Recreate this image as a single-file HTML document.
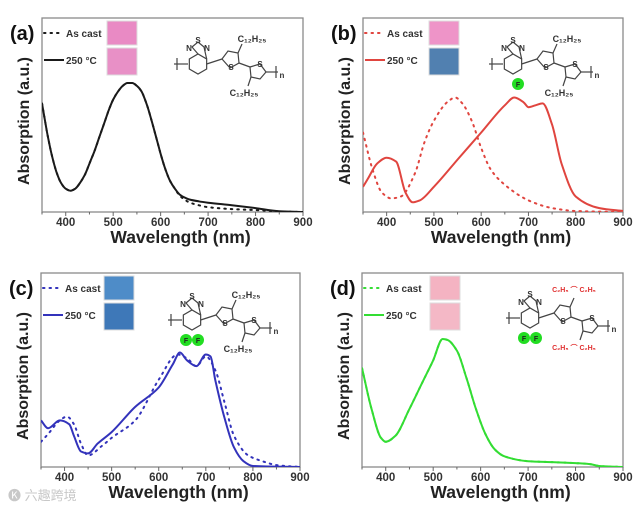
<!DOCTYPE html>
<html><head><meta charset="utf-8">
<style>
html,body{margin:0;padding:0;background:#fff;}
svg{display:block;font-family:"Liberation Sans",Arial,sans-serif;}
</style></head>
<body>
<svg id="fig" width="640" height="511" viewBox="0 0 640 511"></svg>
<script>
// ---- data (normalized absorption, fraction of frame height) ----
const aWl = [350,360,370,380,390,400,410,420,430,440,450,460,470,480,490,500,510,520,530,540,550,560,570,580,590,600,610,620,630,640,650,660,680,700,750,800,850,900];
const aAnneal = [0.56,0.42,0.30,0.21,0.15,0.12,0.11,0.12,0.15,0.19,0.25,0.31,0.38,0.45,0.52,0.58,0.62,0.65,0.665,0.665,0.65,0.62,0.56,0.48,0.39,0.30,0.22,0.16,0.12,0.09,0.075,0.065,0.055,0.048,0.035,0.02,0.004,0];
const aCast = [0.56,0.42,0.30,0.21,0.15,0.12,0.11,0.12,0.15,0.19,0.25,0.31,0.38,0.45,0.52,0.58,0.62,0.65,0.665,0.665,0.65,0.62,0.56,0.48,0.39,0.30,0.22,0.16,0.12,0.085,0.065,0.05,0.035,0.025,0.015,0.01,0.003,0];

const bWlA = [350,360,380,400,420,440,455,470,500,550,600,650,670,690,700,715,730,750,770,800,850,900];
const bAnneal = [0.13,0.17,0.25,0.28,0.26,0.10,0.05,0.06,0.13,0.27,0.41,0.55,0.59,0.565,0.54,0.55,0.56,0.45,0.25,0.08,0.02,0.005];
const bWlC = [350,370,390,410,430,460,480,500,530,545,560,580,600,620,650,700,750,800,900];
const bCast = [0.41,0.22,0.10,0.07,0.08,0.20,0.36,0.47,0.57,0.59,0.56,0.47,0.33,0.22,0.14,0.06,0.02,0.005,0];

const cWlA = [350,365,390,410,420,435,450,470,500,550,600,630,645,660,680,700,710,720,740,760,780,800,900];
const cAnneal = [0.24,0.20,0.24,0.22,0.16,0.08,0.07,0.12,0.18,0.31,0.41,0.53,0.59,0.55,0.52,0.58,0.57,0.45,0.25,0.10,0.03,0.005,0];
const cWlC = [350,365,390,405,420,435,450,480,500,550,600,640,660,680,700,720,740,760,790,820,850,900];
const cCast = [0.13,0.17,0.24,0.26,0.22,0.12,0.06,0.11,0.15,0.24,0.45,0.58,0.56,0.52,0.57,0.50,0.33,0.16,0.06,0.03,0.01,0];

const dWl = [350,370,390,400,420,450,480,500,520,530,550,570,590,610,630,650,700,750,800,830,850,900];
const dAnneal = [0.51,0.30,0.15,0.13,0.16,0.30,0.45,0.55,0.66,0.655,0.60,0.46,0.30,0.17,0.09,0.055,0.03,0.025,0.02,0.015,0.005,0];
const dCast = [0.51,0.30,0.15,0.13,0.16,0.30,0.45,0.55,0.66,0.655,0.60,0.46,0.30,0.17,0.09,0.055,0.03,0.025,0.02,0.015,0.005,0];

const xTicks = [400,500,600,700,800,900];
const xMin = 350, xMax = 900;

const NS = "http://www.w3.org/2000/svg";
const svg = document.getElementById('fig');
function el(tag, attrs, parent){
  const e = document.createElementNS(NS, tag);
  for (const k in attrs) e.setAttribute(k, attrs[k]);
  (parent||svg).appendChild(e);
  return e;
}
// monotone cubic (Fritsch-Carlson) to avoid overshoot
function smoothPath(pts){
  const n=pts.length;
  const dx=[],dy=[],m=[],t=[];
  for(let i=0;i<n-1;i++){dx[i]=pts[i+1][0]-pts[i][0];dy[i]=pts[i+1][1]-pts[i][1];m[i]=dy[i]/dx[i];}
  t[0]=m[0]; t[n-1]=m[n-2];
  for(let i=1;i<n-1;i++){
    if(m[i-1]*m[i]<=0) t[i]=0;
    else { const w1=2*dx[i]+dx[i-1], w2=dx[i]+2*dx[i-1]; t[i]=(w1+w2)/(w1/m[i-1]+w2/m[i]); }
  }
  let d="M"+pts[0][0].toFixed(1)+","+pts[0][1].toFixed(1);
  for(let i=0;i<n-1;i++){
    const h=dx[i]/3;
    d+=" C"+(pts[i][0]+h).toFixed(1)+","+(pts[i][1]+t[i]*h).toFixed(1)+" "+(pts[i+1][0]-h).toFixed(1)+","+(pts[i+1][1]-t[i+1]*h).toFixed(1)+" "+pts[i+1][0].toFixed(1)+","+pts[i+1][1].toFixed(1);
  }
  return d;
}

function panel(p){
  const g = el('g', {});
  
  
  const L=p.L, R=p.R, T=p.T, B=p.B;
  const sx = v => L + (v-xMin)/(xMax-xMin)*(R-L);
  const sy = v => B - v*(B-T);
  const frame = el('rect',{x:L,y:T,width:R-L,height:B-T,fill:'none',stroke:'#8a8a8a','stroke-width':1.3},g);
  
  
  for (let v=350; v<=900; v+=50){
    const major = v%100===0;
    const t = el('line',{x1:sx(v),x2:sx(v),y1:B,y2:B+(major?4:2.5),stroke:'#666','stroke-width':1},g);
    
    
  }
  xTicks.forEach(v=>{
    const t = el('text',{x:sx(v),y:B+14,'text-anchor':'middle','font-size':11.5,'font-weight':'bold',fill:'#333'},g);
    t.textContent = v;
    
    
  });
  const xt = el('text',{x:(L+R)/2+8,y:B+31,'text-anchor':'middle','font-size':17.5,'font-weight':'bold',fill:'#222'},g);
  xt.textContent='Wavelength (nm)';
  
  
  const yt = el('text',{x:0,y:0,transform:`translate(${L-13},${(T+B)/2+6}) rotate(-90)`,'text-anchor':'middle','font-size':16,'font-weight':'bold',fill:'#222'},g);
  yt.textContent='Absorption (a.u.)';
  
  
  const lab = el('text',{x:L-32,y:T+22,'font-size':20,'font-weight':'bold',fill:'#111'},g);
  lab.textContent='('+p.id+')';
  
  
  const clipId='clip'+p.id;
  const cp = el('clipPath',{id:clipId},g);
  el('rect',{x:L,y:T,width:R-L,height:B-T},cp);
  const castPts = p.wlC.map((w,i)=>[sx(w),sy(p.cast[i])]);
  const c = el('path',{d:smoothPath(castPts),fill:'none',stroke:p.color,'stroke-width':2,'stroke-dasharray':'1.5 5','stroke-linecap':'round','clip-path':`url(#${clipId})`},g);
  
  
  const annPts = p.wlA.map((w,i)=>[sx(w),sy(p.anneal[i])]);
  const a = el('path',{d:smoothPath(annPts),fill:'none',stroke:p.color,'stroke-width':2,'clip-path':`url(#${clipId})`},g);
  
  
  const lx=L+2, ly1=T+15, ly2=T+42;
  const l1 = el('line',{x1:lx,x2:lx+18,y1:ly1,y2:ly1,stroke:p.color,'stroke-width':2,'stroke-dasharray':'1.5 5','stroke-linecap':'round'},g);
  
  
  const t1 = el('text',{x:lx+22,y:ly1+4,'font-size':10,'font-weight':'bold',fill:'#333'},g);
  t1.textContent='As cast';
  
  
  const l2 = el('line',{x1:lx,x2:lx+20,y1:ly2,y2:ly2,stroke:p.color,'stroke-width':2},g);
  
  
  const t2 = el('text',{x:lx+22,y:ly2+4,'font-size':10,'font-weight':'bold',fill:'#333'},g);
  t2.textContent='250 °C';
  
  
  const f1 = el('rect',{x:p.photoX,y:T+3,width:30,height:24,fill:p.photo1,stroke:'#ddd','stroke-width':1},g);
  
  
  const f2 = el('rect',{x:p.photoX,y:T+30,width:30,height:27,fill:p.photo2,stroke:'#ddd','stroke-width':1},g);
  
  
  molecule(g, p.mx, p.my, p.mol);
}

function molecule(parent, ox, oy, opt){
  const g = el('g',{transform:`translate(${ox},${oy})`,stroke:'#444','stroke-width':1.2,fill:'none'},parent);
  
  
  const hx=0, hy=0, r=10;
  let hp=[];
  for(let i=0;i<6;i++){const a=Math.PI/6+i*Math.PI/3; hp.push([hx+r*Math.cos(a),hy+r*Math.sin(a)]);}
  el('polygon',{points:hp.map(p=>p.join(',')).join(' ')},g);
  el('polyline',{points:`${hp[4][0]},${hp[4][1]} -6,-17 0,-22 6,-17 ${hp[5][0]},${hp[5][1]}`},g);
  el('line',{x1:-10,y1:0,x2:-24,y2:0},g);
  el('line',{x1:-21,y1:-6,x2:-21,y2:6},g);
  el('line',{x1:hp[0][0],y1:hp[0][1]-5,x2:24,y2:-5},g);
  const t1=[[24,-5],[30,-13],[40,-11],[41,-1],[32,4]];
  el('polygon',{points:t1.map(p=>p.join(',')).join(' ')},g);
  el('line',{x1:40,y1:-11,x2:44,y2:-20},g);
  el('line',{x1:41,y1:-1,x2:52,y2:3},g);
  const t2=[[52,3],[62,0],[68,8],[62,15],[53,13]];
  el('polygon',{points:t2.map(p=>p.join(',')).join(' ')},g);
  el('line',{x1:53,y1:13,x2:50,y2:22},g);
  el('line',{x1:68,y1:8,x2:80,y2:8},g);
  el('line',{x1:78,y1:2,x2:78,y2:14},g);
  const tx = (x,y,s,c,fs)=>{const t=el('text',{x,y,'font-size':fs||8,'font-weight':'bold',fill:c||'#333',stroke:'none','text-anchor':'middle'},g);t.textContent=s;return t;};
  tx(0,-21,'S'); tx(-9,-13,'N'); tx(9,-13,'N');
  tx(33,6,'S'); tx(62,3,'S'); tx(84,14,'n');
  if(opt.red){
    tx(44,-26,'C₂H₅ ⌒ C₂H₅','#e03030',7);
    tx(44,32,'C₂H₅ ⌒ C₂H₅','#e03030',7);
  } else {
    tx(54,-22,'C₁₂H₂₅','#333',9);
    tx(46,32,'C₁₂H₂₅','#333',9);
  }
  (opt.F||[]).forEach(fx=>{
    const c=el('circle',{cx:fx,cy:20,r:6,fill:'#22dd22',stroke:'none'},g);
    
    
    tx(fx,23,'F','#222',7);
  });
}

panel({id:'a',L:42,R:303,T:18,B:212,color:'#1a1a1a',wlA:aWl,anneal:aAnneal,wlC:aWl,cast:aCast,photoX:107,photo1:'#e98ac4',photo2:'#e890c6',mx:198,my:64,mol:{}});
panel({id:'b',L:363,R:623,T:18,B:212,color:'#e0453f',wlA:bWlA,anneal:bAnneal,wlC:bWlC,cast:bCast,photoX:429,photo1:'#ee94c8',photo2:'#5180b0',mx:513,my:64,mol:{F:[5]}});
panel({id:'c',L:41,R:300,T:273,B:467,color:'#3333bb',wlA:cWlA,anneal:cAnneal,wlC:cWlC,cast:cCast,photoX:104,photo1:'#4e8cc8',photo2:'#3e78b8',mx:192,my:320,mol:{F:[-6,6]}});
panel({id:'d',L:362,R:623,T:273,B:467,color:'#33dd33',wlA:dWl,anneal:dAnneal,wlC:dWl,cast:dCast,photoX:430,photo1:'#f4b3c2',photo2:'#f4b8c6',mx:530,my:318,mol:{F:[-6,6],red:true}});

const wm = el('text',{x:8,y:500,'font-size':13,fill:'#c8c8c8','font-family':'"Liberation Sans","Noto Sans CJK SC",sans-serif'});
wm.textContent='🅚 六趣跨境';


</script>
</body></html>
